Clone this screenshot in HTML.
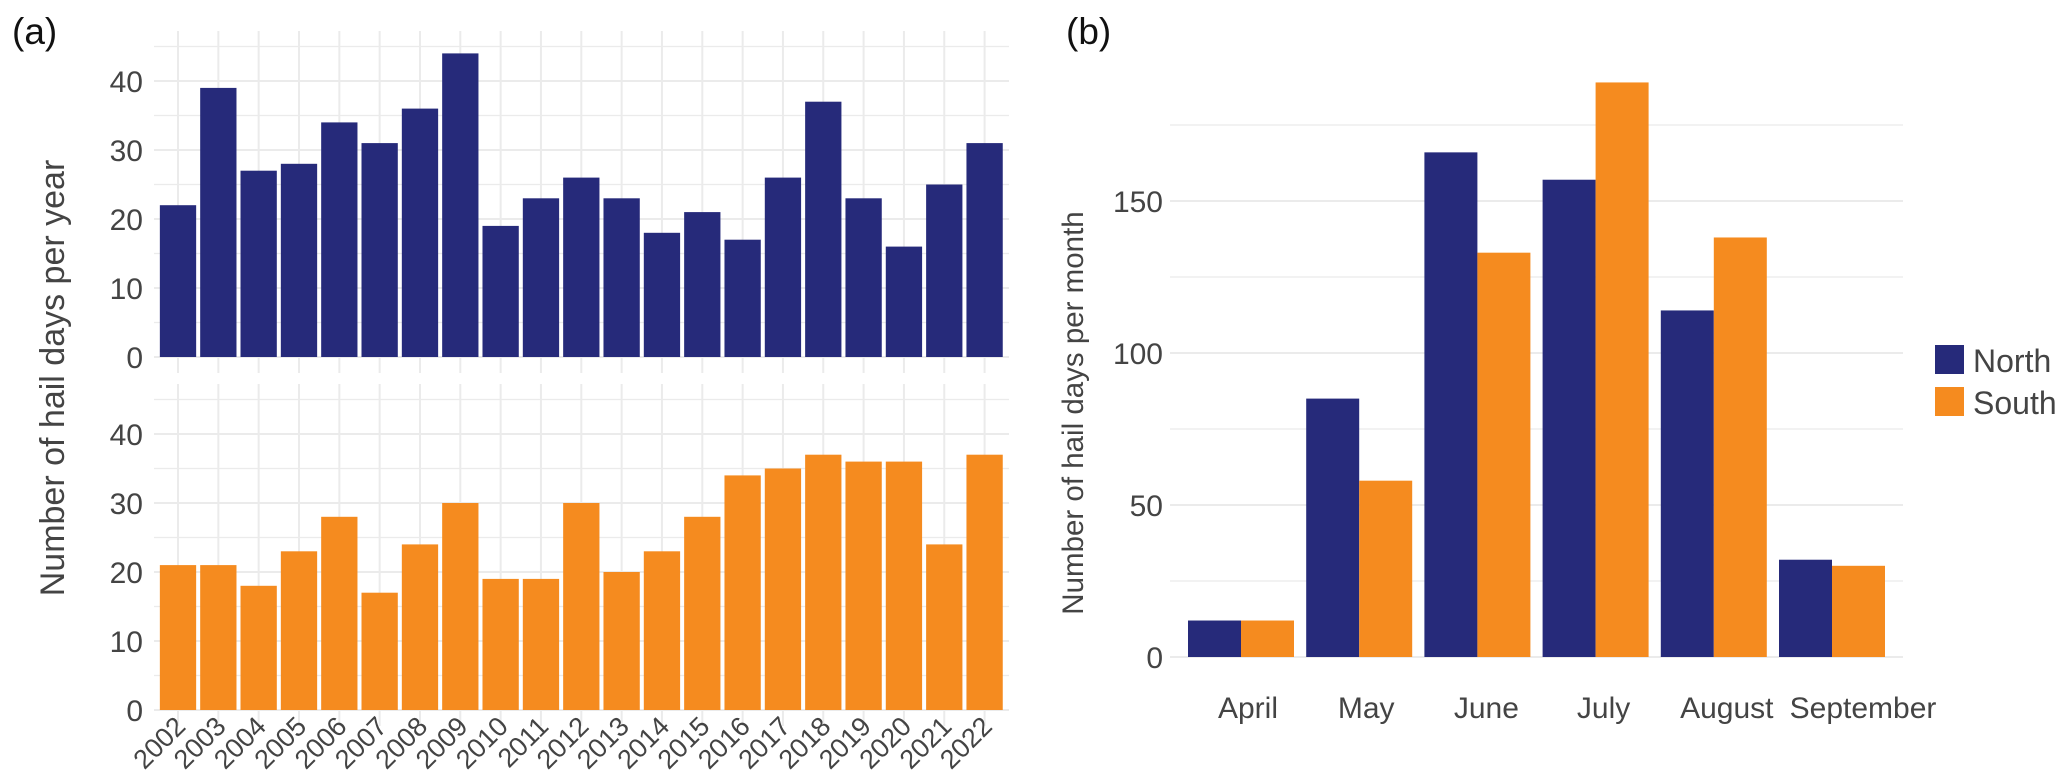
<!DOCTYPE html>
<html><head><meta charset="utf-8"><style>
html,body{margin:0;padding:0;background:#fff}
svg{display:block;font-family:"Liberation Sans",sans-serif}
</style></head><body>
<svg id="c" width="2067" height="784" viewBox="0 0 2067 784" xmlns="http://www.w3.org/2000/svg">
<text x="12" y="44" font-size="37" fill="#111">(a)</text>
<text x="1066" y="44" font-size="37" fill="#111">(b)</text>
<text transform="translate(64,378) rotate(-90)" text-anchor="middle" font-size="34" fill="#444">Number of hail days per year</text>
<text transform="translate(1083,413) rotate(-90)" text-anchor="middle" font-size="29.5" fill="#444">Number of hail days per month</text>
<g id="ga"></g><g id="gb"></g>
</svg>
<script>
const years = [2002,2003,2004,2005,2006,2007,2008,2009,2010,2011,2012,2013,2014,2015,2016,2017,2018,2019,2020,2021,2022];
const northYear = [22,39,27,28,34,31,36,44,19,23,26,23,18,21,17,26,37,23,16,25,31];
const southYear = [21,21,18,23,28,17,24,30,19,19,30,20,23,28,34,35,37,36,36,24,37];
const yTicksA = [0,10,20,30,40];
const months = ["April","May","June","July","August","September"];
const northMonth = [12,85,166,157,114,32];
const southMonth = [12,58,133,189,138,30];
const yTicksB = [0,50,100,150];
const NAVY="#262a7a", ORANGE="#f58b1f", GRID="#ebebeb";
const NS="http://www.w3.org/2000/svg";
function mk(tag,attrs,parent,txt){const e=document.createElementNS(NS,tag);for(const k in attrs)e.setAttribute(k,attrs[k]);if(txt!==undefined)e.textContent=txt;parent.appendChild(e);return e;}
const ga=document.getElementById('ga'), gb=document.getElementById('gb');
const xA = i => 178 + i*40.33;
const bwA = 36.3;
function panel(vals,color,zeroY,topY,name){
  const yS = v => zeroY - v*6.9;
  for(let v=0; v<=45; v+=5){
    const l=mk('line',{x1:154,x2:1009,y1:yS(v),y2:yS(v),stroke:GRID,'stroke-width':v%10===0?2:1.3},ga);
    
    
  }
  years.forEach((y,i)=>{
    const l=mk('line',{x1:xA(i),x2:xA(i),y1:topY,y2:zeroY+16,stroke:GRID,'stroke-width':2},ga);
    
    
  });
  yTicksA.forEach(t=>{
    const e=mk('text',{x:143,y:yS(t)+11,'text-anchor':'end','font-size':30,fill:'#444'},ga,String(t));
    
    
  });
  vals.forEach((v,i)=>{
    const r=mk('rect',{x:xA(i)-bwA/2,y:yS(v),width:bwA,height:v*6.9,fill:color},ga);
    
    
  });
}
panel(northYear,NAVY,357,31,'north-panel');
panel(southYear,ORANGE,710,384,'south-panel');
years.forEach((y,i)=>{
  const x=xA(i)+9, yy=728;
  const e=mk('text',{x:x,y:yy,'text-anchor':'end','font-size':27,fill:'#444',transform:`rotate(-45 ${x} ${yy})`},ga,String(y));
  
  
});
const zB=657, kB=3.04;
const yB = v => zB - v*kB;
const xB = i => 1241 + i*118.2;
const bwB = 53;
const labelShift = [7,7,9,8,13,31];
for(let v=0; v<=175; v+=25){
  const l=mk('line',{x1:1170,x2:1903,y1:yB(v),y2:yB(v),stroke:GRID,'stroke-width':v%50===0?2:1.3},gb);
  
  
}
yTicksB.forEach(t=>{
  const e=mk('text',{x:1163,y:yB(t)+11,'text-anchor':'end','font-size':30,fill:'#444'},gb,String(t));
  
  
});
months.forEach((m,i)=>{
  const n=mk('rect',{x:xB(i)-bwB,y:yB(northMonth[i]),width:bwB,height:northMonth[i]*kB,fill:NAVY},gb);
  
  
  const s=mk('rect',{x:xB(i),y:yB(southMonth[i]),width:bwB,height:southMonth[i]*kB,fill:ORANGE},gb);
  
  
  const t=mk('text',{x:xB(i)+labelShift[i],y:718,'text-anchor':'middle','font-size':30,fill:'#444'},gb,m);
  
  
});
const lg=mk('g',{},gb);


[["North",NAVY,345],["South",ORANGE,387]].forEach(([lab,col,y])=>{
  const r=mk('rect',{x:1935,y:y,width:29,height:29,fill:col},lg);
  
  
  const t=mk('text',{x:1973,y:y+27,'font-size':32,fill:'#444'},lg,lab);
  
  
});
</script>
</body></html>
